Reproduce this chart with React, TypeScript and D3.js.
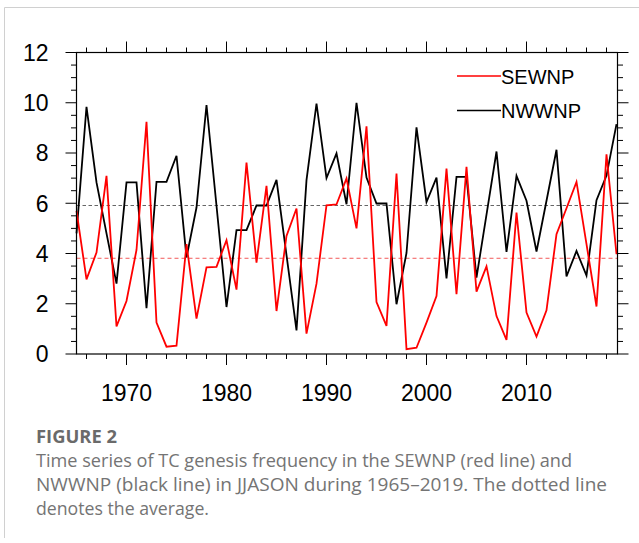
import React from "react";
import * as d3 from "d3";

const years = d3.range(1965, 2020);
const sewnp = [
  5.7, 2.97, 4.04, 7.09, 1.1, 2.11, 4.14, 9.24, 1.25, 0.29,
  0.33, 4.37, 1.41, 3.45, 3.47, 4.53, 2.56, 7.62, 3.64, 6.69,
  1.71, 4.7, 5.79, 0.81, 2.8, 5.92, 5.95, 6.99, 5.0, 9.06,
  2.07, 1.12, 7.18, 0.19, 0.25, 1.25, 2.31, 7.38, 2.38, 7.45,
  2.48, 3.49, 1.51, 0.56, 5.63, 1.65, 0.69, 1.74, 4.77, 5.8,
  6.85, 4.37, 1.89, 7.95, 3.97,
];
const nwwnp = [
  4.8, 9.84, 6.83, 4.8, 2.8, 6.83, 6.83, 1.82, 6.85, 6.85,
  7.89, 3.84, 5.83, 9.91, 5.9, 1.87, 4.93, 4.93, 5.91, 5.91,
  6.93, 3.94, 0.94, 6.92, 9.97, 7.0, 7.98, 5.96, 10.0, 7.02,
  5.99, 5.99, 1.98, 4.02, 9.02, 6.05, 7.02, 3.01, 7.05, 7.05,
  3.04, 5.55, 8.06, 4.06, 7.09, 6.1, 4.08, 6.1, 8.13, 3.09,
  4.1, 3.12, 6.12, 7.1, 9.15,
];
const sewnpMean = 3.81;
const nwwnpMean = 5.91;
const yTicks = [0, 2, 4, 6, 8, 10, 12];
const yMinor = d3.range(0, 12.01, 0.5);
const xTicks = [1970, 1980, 1990, 2000, 2010];
const xMinor = d3.range(1966, 2020, 2);
const seriesNames = ["SEWNP", "NWWNP"];
const captionTitle = "FIGURE 2";
const captionLines = [
  "Time series of TC genesis frequency in the SEWNP (red line) and",
  "NWWNP (black line) in JJASON during 1965\u20132019. The dotted line",
  "denotes the average.",
];
const captionWidths = [536, 571, 173];

export default function App() {
  const W = 639, H = 543;
  const x0 = 76.5, x1 = 617.5, yTop = 52.5, yBot = 354;
  const x = d3.scaleLinear().domain([1965, 2019]).range([x0, x1 - 1]);
  const y = d3.scaleLinear().domain([0, 12]).range([yBot, yTop]);
  const line = d3.line<number>().x((_, i) => x(years[i])).y((d) => y(d));
  const font = "'Liberation Sans', Arial, Helvetica, sans-serif";
  const capFont = "'Open Sans', 'Noto Sans', sans-serif";

  return (
    <svg width={W} height={H} style={{ position: "absolute", left: 0, top: 0, background: "#fff" }}>
      <rect x={0} y={0} width={W} height={H} fill="#fff" />
      {/* figure border */}
      <line x1={4.5} y1={7.5} x2={W} y2={7.5} stroke="#d0d0d0" strokeWidth={1} />
      <line x1={4.5} y1={7.5} x2={4.5} y2={538} stroke="#d0d0d0" strokeWidth={1} />

      {/* mean lines */}
      <line x1={x0} x2={x1} y1={y(nwwnpMean)} y2={y(nwwnpMean)} stroke="#666" strokeWidth={1} strokeDasharray="3.5,2.5" />
      <line x1={x0} x2={x1} y1={y(sewnpMean)} y2={y(sewnpMean)} stroke="#f03030" strokeWidth={0.8} strokeDasharray="4,3" />

      {/* series */}
      <path d={line(nwwnp) || ""} fill="none" stroke="#000" strokeWidth={1.8} strokeLinejoin="miter" />
      <path d={line(sewnp) || ""} fill="none" stroke="#ff0000" strokeWidth={1.8} strokeLinejoin="miter" />

      {/* frame */}
      <rect x={x0} y={yTop} width={x1 - x0} height={yBot - yTop} fill="none" stroke="#000" strokeWidth={1.2} />

      {/* y ticks left/right */}
      {yMinor.map((v) => {
        const major = yTicks.includes(v);
        const len = major ? 11 : 5.5;
        return (
          <g key={"ym" + v}>
            <line x1={x0 - len} x2={x0} y1={y(v)} y2={y(v)} stroke="#000" strokeWidth={1} />
            <line x1={x1} x2={x1 + len} y1={y(v)} y2={y(v)} stroke="#000" strokeWidth={1} />
          </g>
        );
      })}
      {yTicks.map((v) => (
        <text key={"yl" + v} x={48.5} y={y(v)} dy="0.36em" textAnchor="end" fontFamily={font} fontSize={23} fill="#000">
          {v}
        </text>
      ))}

      {/* x ticks bottom/top */}
      {xMinor.map((v) => {
        const major = xTicks.includes(v);
        const len = major ? 11 : 5;
        return (
          <g key={"xm" + v}>
            <line x1={x(v)} x2={x(v)} y1={yBot} y2={yBot + len} stroke="#000" strokeWidth={1} />
            <line x1={x(v)} x2={x(v)} y1={yTop - len} y2={yTop} stroke="#000" strokeWidth={1} />
          </g>
        );
      })}
      {xTicks.map((v) => (
        <text key={"xl" + v} x={x(v)} y={401} textAnchor="middle" fontFamily={font} fontSize={23} fill="#000">
          {v}
        </text>
      ))}

      {/* legend */}
      {seriesNames.map((n, i) => (
        <g key={n}>
          <line x1={457} x2={501} y1={76 + i * 34.5} y2={76 + i * 34.5} stroke={i === 0 ? "#ff0000" : "#000"} strokeWidth={1.4} />
          <text x={501} y={83.5 + i * 34.5} fontFamily={font} fontSize={20} fill="#000">
            {n}
          </text>
        </g>
      ))}

      {/* caption */}
      <text x={36} y={443} fontFamily={capFont} fontWeight={700} fontSize={18} fill="#6a6a6a" textLength={81} lengthAdjust="spacingAndGlyphs">
        {captionTitle}
      </text>
      {captionLines.map((t, i) => (
        <text key={i} x={36} y={467 + i * 24} fontFamily={capFont} fontWeight={400} fontSize={18} fill="#747474"
          textLength={captionWidths[i]} lengthAdjust="spacingAndGlyphs">
          {t}
        </text>
      ))}
    </svg>
  );
}
